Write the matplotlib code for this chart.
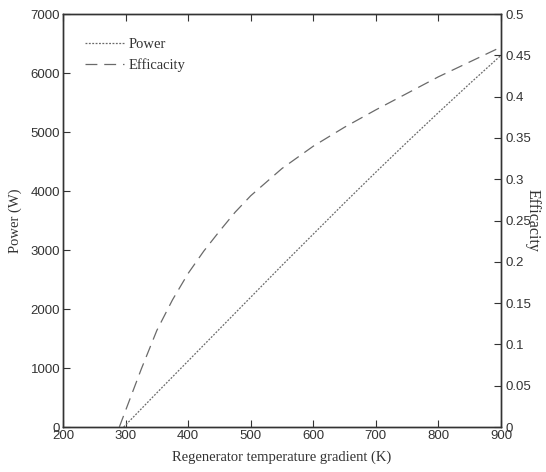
import matplotlib
matplotlib.use("Agg")
import matplotlib.pyplot as plt

# Data
temp_power = [297, 350, 400, 450, 500, 550, 600, 650, 700, 750, 800, 850, 900]
power = [0, 580, 1120, 1660, 2200, 2740, 3270, 3800, 4320, 4830, 5330, 5820, 6300]

temp_eff = [290, 300, 325, 350, 375, 400, 425, 450, 475, 500, 550, 600, 650, 700, 750, 800, 850, 900]
efficacity = [0, 0.02, 0.07, 0.117, 0.154, 0.186, 0.213, 0.237, 0.26, 0.28, 0.313, 0.34, 0.363, 0.384, 0.404, 0.424, 0.442, 0.46]

xticks = [200, 300, 400, 500, 600, 700, 800, 900]
yticks_left = [0, 1000, 2000, 3000, 4000, 5000, 6000, 7000]
yticks_right = [0, 0.05, 0.1, 0.15, 0.2, 0.25, 0.3, 0.35, 0.4, 0.45, 0.5]
yticklabels_right = ["0", "0.05", "0.1", "0.15", "0.2", "0.25", "0.3", "0.35", "0.4", "0.45", "0.5"]

fig = plt.figure(figsize=(5.46, 4.72), dpi=100)
ax = fig.add_axes([0.1154, 0.0953, 0.8022, 0.875])
ax2 = ax.twinx()

line_color = "#6a6a6a"
l1, = ax.plot(temp_power, power, linestyle=(0, (1.5, 1.2)), color=line_color, linewidth=0.9, label="Power")
l2, = ax2.plot(temp_eff, efficacity, linestyle=(0, (9.5, 5.5)), color=line_color, linewidth=0.9, label="Efficacity")

ax.set_xlim(200, 900)
ax.set_ylim(0, 7000)
ax2.set_ylim(0, 0.5)

tick_font = dict(family="Liberation Sans", size=9.5)
ax.set_xticks(xticks)
ax.set_xticklabels([str(t) for t in xticks], fontdict=tick_font, color="#333333")
ax.set_yticks(yticks_left)
ax.set_yticklabels([str(t) for t in yticks_left], fontdict=tick_font, color="#333333")
ax2.set_yticks(yticks_right)
ax2.set_yticklabels(yticklabels_right, fontdict=tick_font, color="#333333")

ax.tick_params(axis="x", direction="in", top=True, length=5, pad=2, color="#333333")
ax.tick_params(axis="y", direction="in", length=5, pad=2, color="#333333")
ax2.tick_params(axis="y", direction="in", length=5, pad=3, color="#333333")

for a in (ax, ax2):
    for s in a.spines.values():
        s.set_color("#333333")
        s.set_linewidth(1.0)

label_font = dict(family="Liberation Serif", size=10.5, color="#333333")
ax.set_xlabel("Regenerator temperature gradient (K)", fontdict=label_font, labelpad=6)
ax.set_ylabel("Power (W)", fontdict=label_font, labelpad=6)
ax2.set_ylabel("Efficacity", fontdict=dict(family="Liberation Serif", size=11.5, color="#333333"),
               rotation=-90, labelpad=-5, va="bottom")

leg = ax.legend(handles=[l1, l2], loc="upper left", bbox_to_anchor=(0.02, 0.975), frameon=False,
                prop={"family": "Liberation Serif", "size": 10.5}, handlelength=2.7, labelspacing=0.55,
                handletextpad=0.3)
for t in leg.get_texts():
    t.set_color("#333333")

fig.savefig("out.png", dpi=100)
